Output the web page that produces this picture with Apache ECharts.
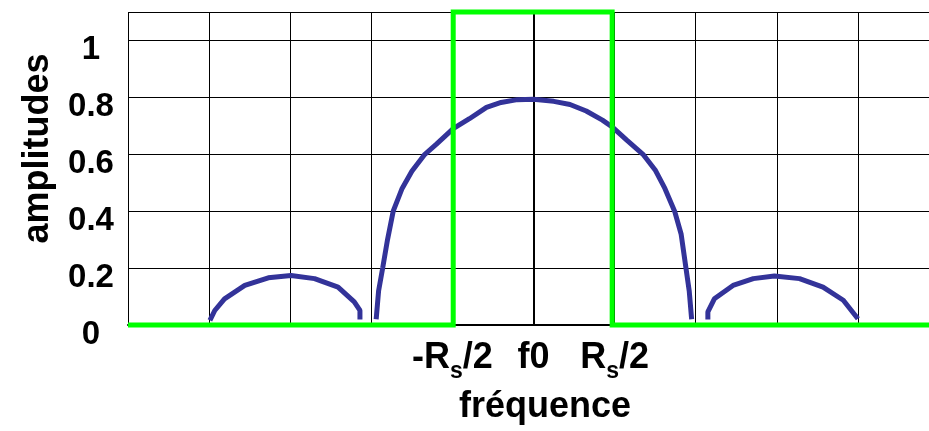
<!DOCTYPE html>
<html>
<head>
<meta charset="utf-8">
<script src="https://cdn.jsdelivr.net/npm/echarts@6/dist/echarts.min.js"></script>
<style>
html,body{margin:0;padding:0;background:#fff;}
#chart{width:929px;height:431px;}
</style>
</head>
<body>
<div id="chart"></div>
<script>
// x in units of Rs/2 relative to f0 (f0 = 0), y = amplitude
var mainLobeX = [-1.94,-1.91,-1.86,-1.80,-1.73,-1.62,-1.50,-1.34,-1.20,-0.99,-0.79,-0.58,-0.40,-0.20,0,0.25,0.45,0.65,0.85,0.98,1.15,1.35,1.50,1.62,1.74,1.82,1.88,1.92,1.95];
var mainLobeY = [0.02,0.12,0.20,0.30,0.40,0.48,0.54,0.60,0.635,0.69,0.725,0.765,0.782,0.792,0.793,0.786,0.775,0.752,0.72,0.694,0.65,0.60,0.545,0.48,0.40,0.32,0.20,0.12,0.02];
var leftLobeX = [-3.99,-3.93,-3.81,-3.56,-3.27,-2.99,-2.70,-2.41,-2.21,-2.14,-2.14];
var leftLobeY = [0.016,0.051,0.092,0.139,0.166,0.174,0.163,0.133,0.081,0.051,0.019];
var rightLobeX = [2.15,2.15,2.23,2.46,2.71,2.97,3.28,3.57,3.82,4.0];
var rightLobeY = [0.019,0.046,0.092,0.139,0.163,0.172,0.163,0.133,0.087,0.022];
var filterX = [-5,-0.99,-0.99,0.97,0.97,5];
var filterY = [0,0,1.1,1.1,0,0];
var yTicks = [0,0.2,0.4,0.6,0.8,1];
var yTickLabels = ['0','0.2','0.4','0.6','0.8','1'];
var xTickValues = [-1,0,1];
var xTickLabels = ['-{m|R}{s|s}{m|/2}','{m|f0}','{m|R}{s|s}{m|/2}'];
var xName = 'fréquence';
var yName = 'amplitudes';

function pairs(xs, ys){ return xs.map(function(x,i){ return [x, ys[i]]; }); }

var font = '"Liberation Sans", Arial, sans-serif';
var chart = echarts.init(document.getElementById('chart'), null, {renderer:'canvas'});
chart.setOption({
  animation: false,
  backgroundColor: '#ffffff',
  grid: {left: 128, top: 12, width: 811, bottom: 106, containLabel: false, outerBoundsMode: 'none'},
  xAxis: {
    type: 'value', min: -5, max: 5, interval: 1,
    axisLine: {show: true, onZero: false, lineStyle: {color: '#000', width: 2}},
    axisTick: {show: false},
    splitLine: {show: true, lineStyle: {color: '#000', width: 1}},
    axisLabel: {
      show: true, margin: 8, verticalAlign: 'top',
      formatter: function(v){
        for (var i=0;i<xTickValues.length;i++){ if (Math.abs(v - xTickValues[i]) < 1e-6) return xTickLabels[i]; }
        return '';
      },
      color: '#000', fontFamily: font, fontWeight: 'bold', fontSize: 36, lineHeight: 50,
      rich: {
        m: {fontFamily: font, fontWeight: 'bold', fontSize: 36, lineHeight: 50, color: '#000'},
        s: {fontFamily: font, fontWeight: 'bold', fontSize: 23, lineHeight: 23, verticalAlign: 'bottom', color: '#000'}
      }
    },
    name: xName, nameLocation: 'middle', nameGap: 64,
    nameTextStyle: {fontFamily: font, fontWeight: 'bold', fontSize: 36, color: '#000', verticalAlign: 'top', padding: [0,0,0,23]}
  },
  yAxis: {
    type: 'value', min: 0, max: 1.1, interval: 0.2,
    axisLine: {show: true, lineStyle: {color: '#000', width: 2}},
    axisTick: {show: false},
    splitLine: {show: true, lineStyle: {color: '#000', width: 1}},
    axisLabel: {
      show: true, margin: 37, align: 'center', verticalAlign: 'top', lineHeight: 19,
      color: '#000', fontFamily: font, fontWeight: 'bold', fontSize: 33,
      formatter: function(v){
        for (var i=0;i<yTicks.length;i++){ if (Math.abs(v - yTicks[i]) < 1e-6) return yTickLabels[i]; }
        return '';
      }
    },
    name: yName, nameLocation: 'middle', nameGap: 72, nameRotate: 90,
    nameTextStyle: {fontFamily: font, fontWeight: 'bold', fontSize: 36, color: '#000', padding: [0,0,0,40]}
  },
  series: [
    {type: 'line', data: pairs(leftLobeX, leftLobeY), symbol: 'none', smooth: false, z: 3,
     lineStyle: {color: '#333399', width: 5}, itemStyle: {color: '#333399'}},
    {type: 'line', data: pairs(mainLobeX, mainLobeY), symbol: 'none', smooth: false, z: 3,
     lineStyle: {color: '#333399', width: 5}, itemStyle: {color: '#333399'}},
    {type: 'line', data: pairs(rightLobeX, rightLobeY), symbol: 'none', smooth: false, z: 3,
     lineStyle: {color: '#333399', width: 5}, itemStyle: {color: '#333399'}},
    {type: 'line', data: pairs(filterX, filterY), symbol: 'none', smooth: false, clip: false, z: 4,
     lineStyle: {color: '#00ff00', width: 5, join: 'miter'}, itemStyle: {color: '#00ff00'}}
  ]
});
</script>
</body>
</html>
